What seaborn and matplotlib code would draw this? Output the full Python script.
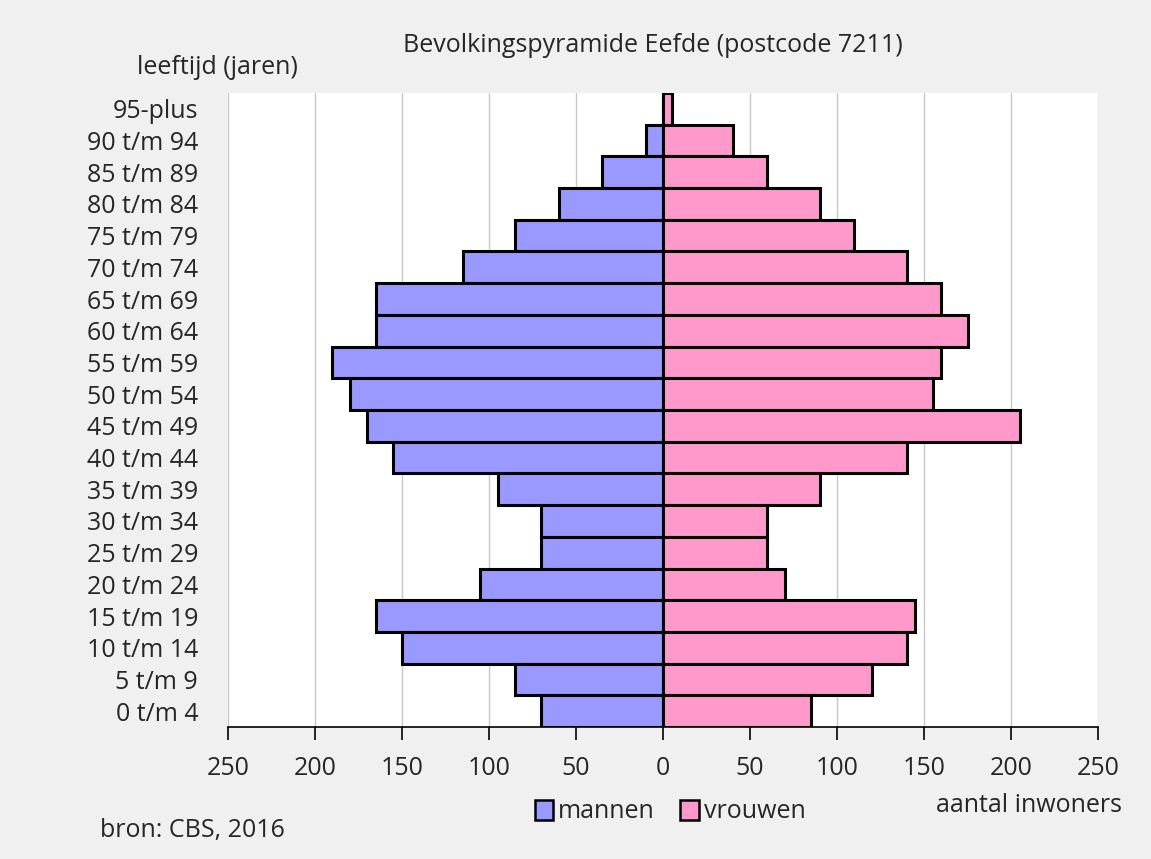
import matplotlib.pyplot as plt
import pandas as pd
import seaborn as sns

# Data (Eefde, postcode 7211)
leeftijd = ['95-plus', '90 t/m 94', '85 t/m 89', '80 t/m 84', '75 t/m 79', '70 t/m 74',
            '65 t/m 69', '60 t/m 64', '55 t/m 59', '50 t/m 54', '45 t/m 49', '40 t/m 44',
            '35 t/m 39', '30 t/m 34', '25 t/m 29', '20 t/m 24', '15 t/m 19', '10 t/m 14',
            '5 t/m 9', '0 t/m 4']
mannen = [0, 10, 35, 60, 85, 115, 165, 165, 190, 180, 170, 155, 95, 70, 70, 105, 165, 150, 85, 70]
vrouwen = [5, 40, 60, 90, 110, 140, 160, 175, 160, 155, 205, 140, 90, 60, 60, 70, 145, 140, 120, 85]
x_ticks = [-250, -200, -150, -100, -50, 0, 50, 100, 150, 200, 250]

df = pd.DataFrame({
    'leeftijd': leeftijd * 2,
    'aantal': [-m for m in mannen] + vrouwen,
    'geslacht': ['mannen'] * len(mannen) + ['vrouwen'] * len(vrouwen),
})

sns.set_style('white')
plt.rcParams['font.family'] = ['Open Sans', 'DejaVu Sans']
fs = 18

fig = plt.figure(figsize=(11.51, 8.59), dpi=100, facecolor='#f0f0f0')
ax = fig.add_axes([228 / 1151, 1 - 727 / 859, 870 / 1151, 634 / 859])
ax.set_facecolor('white')

sns.barplot(data=df, x='aantal', y='leeftijd', hue='geslacht', order=leeftijd,
            palette={'mannen': '#9999ff', 'vrouwen': '#ff99cc'}, dodge=False, saturation=1,
            width=1.0, edgecolor='black', linewidth=2.2, orient='h', ax=ax, legend=False)

ax.set_xlim(-250, 250)
ax.set_ylim(len(leeftijd) - 0.5, -0.5)
ax.set_xticks(x_ticks)
ax.set_xticklabels([str(abs(t)) for t in x_ticks])
ax.xaxis.grid(True, color='#c8c8c8', linewidth=1)
ax.set_axisbelow(True)
for s in ['top', 'right', 'left']:
    ax.spines[s].set_visible(False)
ax.spines['bottom'].set_color('black')
ax.spines['bottom'].set_linewidth(1.2)
ax.tick_params(axis='x', bottom=True, length=9, width=1.2, color='black',
               labelsize=fs, pad=12, direction='out')
ax.tick_params(axis='y', left=False, labelsize=fs, pad=18)
ax.set_xlabel('')
ax.set_ylabel('')

fig.text(653 / 1151, 1 - 45 / 859, 'Bevolkingspyramide Eefde (postcode 7211)',
         ha='center', va='center', fontsize=fs)
fig.text(137 / 1151, 1 - 68 / 859, 'leeftijd (jaren)', ha='left', va='center', fontsize=fs)
fig.text(1122 / 1151, 1 - 805 / 859, 'aantal inwoners', ha='right', va='center', fontsize=fs)
fig.text(100 / 1151, 1 - 830 / 859, 'bron: CBS, 2016', ha='left', va='center', fontsize=fs)

handles = [plt.Rectangle((0, 0), 1, 1, facecolor='#9999ff', edgecolor='black', linewidth=1.8),
           plt.Rectangle((0, 0), 1, 1, facecolor='#ff99cc', edgecolor='black', linewidth=1.8)]
fig.legend(handles, ['mannen', 'vrouwen'], loc='center', bbox_to_anchor=(670 / 1151, 1 - 812 / 859),
           ncol=2, frameon=False, fontsize=fs, handlelength=0.75, handleheight=0.85,
           handletextpad=0.2, columnspacing=1.0)

fig.savefig('out.png', dpi=100, facecolor=fig.get_facecolor())
